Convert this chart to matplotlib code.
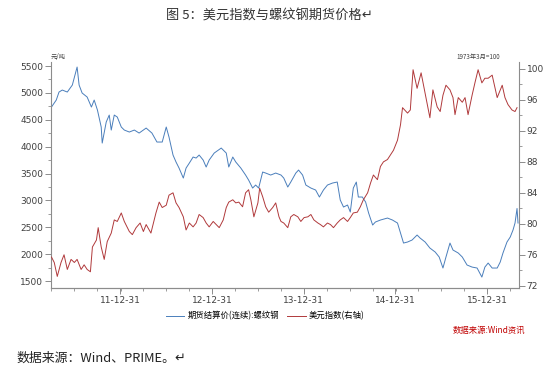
import pandas as pd
import matplotlib
matplotlib.use('Agg')
import matplotlib.pyplot as plt
import matplotlib.dates as mdates
from matplotlib.ticker import MultipleLocator

plt.rcParams['font.family'] = ['Noto Sans CJK SC', 'DejaVu Sans']
plt.rcParams['axes.unicode_minus'] = False

# rebar futures settlement price (left axis, yuan/ton)
rebar_dates = [
    '2011-04-01', '2011-04-20', '2011-05-01', '2011-05-14', '2011-06-03', '2011-06-23',
    '2011-07-12', '2011-07-20', '2011-08-01', '2011-08-21', '2011-09-07', '2011-09-18',
    '2011-10-01', '2011-10-16', '2011-10-20', '2011-11-05', '2011-11-17', '2011-11-25',
    '2011-12-07', '2011-12-19', '2012-01-04', '2012-01-16', '2012-02-05', '2012-02-25',
    '2012-03-15', '2012-04-12', '2012-05-05', '2012-05-25', '2012-06-15', '2012-07-01',
    '2012-07-12', '2012-07-28', '2012-08-09', '2012-08-21', '2012-09-07', '2012-09-18',
    '2012-10-01', '2012-10-16', '2012-10-28', '2012-11-09', '2012-11-25', '2012-12-07',
    '2012-12-19', '2013-01-08', '2013-02-05', '2013-02-25', '2013-03-07', '2013-03-23',
    '2013-04-04', '2013-04-24', '2013-05-13', '2013-05-25', '2013-06-10', '2013-06-22',
    '2013-07-04', '2013-07-20', '2013-08-01', '2013-08-21', '2013-09-10', '2013-10-01',
    '2013-10-12', '2013-10-28', '2013-11-09', '2013-11-29', '2013-12-10', '2013-12-26',
    '2014-01-08', '2014-01-28', '2014-02-16', '2014-03-03', '2014-03-19', '2014-04-04',
    '2014-04-24', '2014-05-13', '2014-05-25', '2014-06-07', '2014-06-23', '2014-07-04',
    '2014-07-16', '2014-07-28', '2014-08-05', '2014-08-21', '2014-09-03', '2014-09-15',
    '2014-10-01', '2014-10-12', '2014-11-01', '2014-11-29', '2014-12-19', '2015-01-08',
    '2015-01-20', '2015-02-01', '2015-02-17', '2015-03-07', '2015-03-27', '2015-04-08',
    '2015-04-28', '2015-05-17', '2015-06-07', '2015-06-23', '2015-07-08', '2015-07-20',
    '2015-08-05', '2015-08-17', '2015-09-07', '2015-09-23', '2015-10-12', '2015-11-01',
    '2015-11-21', '2015-12-10', '2015-12-22', '2016-01-04', '2016-01-20', '2016-02-09',
    '2016-02-21', '2016-03-03', '2016-03-19', '2016-04-01', '2016-04-12', '2016-04-20',
    '2016-04-28', '2016-05-02',
]
rebar_price = [
    4737, 4867, 5016, 5053, 5016, 5146,
    5481, 5146, 4998, 4923, 4737, 4867,
    4681, 4365, 4067, 4458, 4588, 4309,
    4588, 4551, 4365, 4309, 4272, 4309,
    4253, 4346, 4253, 4086, 4086, 4365,
    4179, 3844, 3714, 3602, 3416, 3602,
    3695, 3807, 3788, 3844, 3751, 3621,
    3751, 3881, 3974, 3881, 3621, 3807,
    3714, 3602, 3472, 3379, 3230, 3286,
    3230, 3528, 3509, 3472, 3509, 3472,
    3416, 3249, 3342, 3509, 3565, 3472,
    3286, 3230, 3193, 3063, 3193, 3286,
    3323, 3342, 3007, 2877, 2914, 2784,
    3230, 3342, 3063, 3063, 2970, 2765,
    2542, 2598, 2635, 2672, 2635, 2579,
    2393, 2207, 2226, 2263, 2356, 2300,
    2226, 2114, 2040, 1947, 1742, 1947,
    2207, 2077, 2021, 1947, 1798, 1760,
    1742, 1574, 1760, 1835, 1742, 1742,
    1853, 2021, 2226, 2319, 2449, 2579,
    2850, 2579,
]

# US dollar index (right axis, March 1973 = 100)
usd_dates = [
    '2011-04-01', '2011-04-12', '2011-04-24', '2011-05-09', '2011-05-21', '2011-06-03',
    '2011-06-18', '2011-07-01', '2011-07-12', '2011-07-28', '2011-08-09', '2011-08-21',
    '2011-09-03', '2011-09-11', '2011-09-27', '2011-10-04', '2011-10-16', '2011-10-28',
    '2011-11-09', '2011-11-25', '2011-12-07', '2011-12-19', '2012-01-04', '2012-01-16',
    '2012-02-05', '2012-02-17', '2012-03-03', '2012-03-19', '2012-04-01', '2012-04-12',
    '2012-05-01', '2012-05-21', '2012-06-03', '2012-06-15', '2012-07-01', '2012-07-12',
    '2012-07-28', '2012-08-09', '2012-08-21', '2012-09-07', '2012-09-18', '2012-10-01',
    '2012-10-16', '2012-10-28', '2012-11-09', '2012-11-25', '2012-12-07', '2012-12-19',
    '2013-01-04', '2013-01-16', '2013-01-28', '2013-02-13', '2013-02-25', '2013-03-07',
    '2013-03-23', '2013-04-04', '2013-04-16', '2013-05-01', '2013-05-13', '2013-05-25',
    '2013-06-03', '2013-06-15', '2013-07-01', '2013-07-08', '2013-07-20', '2013-08-01',
    '2013-08-13', '2013-08-29', '2013-09-10', '2013-09-23', '2013-10-01', '2013-10-12',
    '2013-10-28', '2013-11-09', '2013-11-21', '2013-12-07', '2013-12-19', '2014-01-01',
    '2014-01-16', '2014-01-28', '2014-02-09', '2014-02-25', '2014-03-07', '2014-03-19',
    '2014-04-04', '2014-04-16', '2014-04-28', '2014-05-13', '2014-05-25', '2014-06-07',
    '2014-06-23', '2014-07-04', '2014-07-16', '2014-08-01', '2014-08-13', '2014-08-25',
    '2014-09-11', '2014-09-23', '2014-10-04', '2014-10-20', '2014-11-01', '2014-11-13',
    '2014-11-29', '2014-12-11', '2014-12-23', '2015-01-08', '2015-01-20', '2015-01-28',
    '2015-02-17', '2015-02-28', '2015-03-11', '2015-03-27', '2015-04-12', '2015-04-24',
    '2015-05-09', '2015-05-17', '2015-05-29', '2015-06-15', '2015-06-27', '2015-07-08',
    '2015-07-20', '2015-08-05', '2015-08-17', '2015-08-25', '2015-09-07', '2015-09-23',
    '2015-10-04', '2015-10-16', '2015-11-01', '2015-11-13', '2015-11-25', '2015-12-10',
    '2015-12-22', '2016-01-04', '2016-01-20', '2016-02-09', '2016-02-29', '2016-03-11',
    '2016-03-23', '2016-04-08', '2016-04-20', '2016-04-28',
]
usd_index = [
    75.7, 75.0, 73.2, 75.0, 76.0, 74.1,
    75.4, 75.0, 75.4, 74.1, 74.7, 74.1,
    73.8, 77.0, 77.9, 79.5, 77.0, 75.4,
    77.7, 78.8, 80.5, 80.3, 81.4, 80.3,
    79.0, 78.6, 79.5, 80.1, 79.0, 79.9,
    78.8, 81.4, 82.8, 82.1, 82.4, 83.7,
    84.0, 82.7, 82.1, 80.9, 79.2, 80.1,
    79.6, 80.1, 81.2, 80.8, 80.1, 79.6,
    80.3, 79.9, 79.5, 80.5, 82.1, 82.8,
    83.1, 82.7, 82.8, 82.2, 84.0, 84.4,
    83.1, 80.9, 82.7, 84.6, 83.5, 82.2,
    81.5, 82.1, 82.7, 80.9, 80.3, 80.1,
    79.5, 80.9, 81.2, 80.9, 80.3, 80.8,
    80.9, 81.2, 80.5, 80.1, 79.9, 79.6,
    80.1, 79.9, 79.5, 80.1, 80.5, 80.8,
    80.3, 80.8, 81.4, 81.5, 82.2, 83.1,
    84.0, 85.3, 86.3, 85.7, 87.4, 88.0,
    88.3, 88.9, 89.5, 90.8, 92.8, 95.0,
    94.3, 94.7, 99.9, 97.5, 99.5, 97.5,
    95.0, 93.7, 97.3, 95.1, 94.5, 96.6,
    97.9, 97.3, 96.3, 94.1, 96.3, 95.7,
    96.3, 94.1, 96.6, 98.3, 99.9, 98.2,
    98.8, 98.8, 99.2, 96.3, 97.9, 96.3,
    95.4, 94.7, 94.5, 95.0,
]

tick_dates = ['2011-12-31', '2012-12-31', '2013-12-31', '2014-12-31', '2015-12-31']
tick_labels = ['11-12-31', '12-12-31', '13-12-31', '14-12-31', '15-12-31']

blue = '#4a7ebb'
red = '#b0393b'
spine_c = '#8c8c8c'
text_c = '#404040'

fig = plt.figure(figsize=(5.5, 3.78), dpi=100)
ax = fig.add_axes([0.0927, 0.238, 0.851, 0.598])
ax2 = ax.twinx()

l1, = ax.plot(pd.to_datetime(rebar_dates), rebar_price, color=blue, lw=0.7)
l2, = ax2.plot(pd.to_datetime(usd_dates), usd_index, color=red, lw=0.7)

ax.set_xlim(pd.Timestamp('2011-03-30'), pd.Timestamp('2016-05-06'))
ax.set_ylim(1370, 5575)
ax2.set_ylim(71.7, 100.9)

ax.set_yticks(range(1500, 5501, 500))
ax.yaxis.set_minor_locator(MultipleLocator(250))
ax2.set_yticks(range(72, 101, 4))
ax2.yaxis.set_minor_locator(MultipleLocator(2))

ax.set_xticks(pd.to_datetime(tick_dates))
ax.set_xticklabels(tick_labels)
# quarter marks between the year-end labels
ax.xaxis.set_minor_locator(mdates.MonthLocator(bymonth=[4, 7, 10, 1], bymonthday=1))

for a in (ax, ax2):
    a.spines['top'].set_visible(False)
    for s in a.spines.values():
        s.set_color(spine_c)
        s.set_linewidth(0.8)
    a.tick_params(which='major', length=4, width=0.7, color=spine_c,
                  labelsize=6.5, labelcolor=text_c, pad=1.5)
    a.tick_params(which='minor', length=2, width=0.6, color=spine_c)
    for lab in a.get_xticklabels() + a.get_yticklabels():
        lab.set_family('DejaVu Sans')
ax.spines['right'].set_visible(False)
ax2.spines['left'].set_visible(False)

fig.text(0.49, 0.957, '图 5：美元指数与螺纹钢期货价格↵', ha='center', va='center',
         fontsize=9.5, color='#333333')
fig.text(0.093, 0.85, '元/吨', ha='left', va='center', fontsize=4.5, color=text_c)
fig.text(0.91, 0.85, '1973年3月=100', ha='right', va='center', fontsize=4.5, color=text_c)

fig.legend([l1, l2], ['期货结算价(连续):螺纹钢', '美元指数(右轴)'],
           loc='center', bbox_to_anchor=(0.482, 0.164), ncol=2, frameon=False,
           fontsize=6, handlelength=2.2, columnspacing=1.0, handletextpad=0.4)

fig.text(0.955, 0.125, '数据来源:Wind资讯', ha='right', va='center', fontsize=6,
         color='#c00000', style='italic')
fig.text(0.03, 0.053, '数据来源：Wind、PRIME。↵', ha='left', va='center',
         fontsize=9.3, color='#222222')

fig.savefig('out.png', dpi=100)
